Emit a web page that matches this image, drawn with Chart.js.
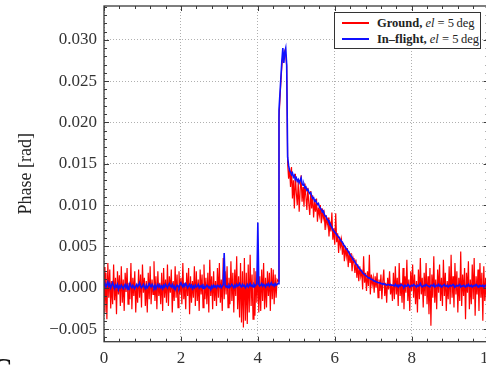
<!DOCTYPE html>
<html>
<head>
<meta charset="utf-8">
<script src="https://cdn.jsdelivr.net/npm/chart.js@4/dist/chart.umd.min.js"></script>
<style>
    html, body { margin: 0; padding: 0; overflow: hidden; background: #fff; }
    #wrap { position: relative; width: 496px; height: 367px; }
    #legend {
        position: absolute; left: 334px; top: 12px; width: 147px; height: 37px;
        border: 1px solid #333; background: #fff; box-sizing: border-box;
        font-family: 'Liberation Serif', 'DejaVu Serif', serif; font-size: 12.5px; color: #222;
        padding-top: 2px;
    }
    #legend .row { display: flex; align-items: center; height: 16px; padding-left: 7px; white-space: nowrap; }
    #legend .swatch { display: inline-block; width: 27px; height: 1.5px; margin-right: 8px; }
    #legend b { font-weight: bold; }
    #legend i { font-style: italic; }
    #corner {
        position: absolute; left: -9px; top: 351px;
        font: bold 30px 'Liberation Serif', serif; color: #111;
    }
</style>
</head>
<body>
<div id="wrap">
    <canvas id="phase-chart" width="496" height="367"></canvas>
    <div id="legend"></div>
    <div id="corner">C</div>
</div>
<script>
// sample spacing along x (both series share it)
const sampleStep = 0.025;

const seriesNames = ['Ground', 'In\u2013flight'];
const elevationDeg = 5;

const xTicks = [0, 2, 4, 6, 8, 10];
const yTicks = [-0.005, 0, 0.005, 0.010, 0.015, 0.020, 0.025, 0.030];

// Ground, el = 5 deg (red)
const groundPhase = [
    0.0025, -0.0030, 0.0018, -0.0038, 0.0030, -0.0012, 0.0022, -0.0025, 0.0008, -0.0020, 0.0028, -0.0015, 0.0012, -0.0032, 0.0020, -0.0008, 0.0015, -0.0022, 0.0026, -0.0018,
    0.0010, -0.0028, 0.0018, -0.0005, 0.0024, -0.0020, 0.0006, -0.0014, 0.0030, -0.0026, 0.0012, -0.0010, 0.0020, -0.0030, 0.0004, -0.0018, 0.0022, -0.0012, 0.0016, -0.0024,
    0.0028, -0.0006, 0.0012, -0.0022, 0.0008, -0.0030, 0.0018, -0.0014, 0.0026, -0.0020, 0.0010, -0.0008, 0.0032, -0.0016, 0.0014, -0.0026, 0.0020, -0.0010, 0.0006, -0.0020,
    0.0018, -0.0028, 0.0024, -0.0012, 0.0010, -0.0018, 0.0028, -0.0022, 0.0014, -0.0006, 0.0022, -0.0030, 0.0008, -0.0016, 0.0026, -0.0012, 0.0016, -0.0024, 0.0020, -0.0008,
    0.0012, -0.0020, 0.0030, -0.0014, 0.0006, -0.0026, 0.0018, -0.0010, 0.0024, -0.0032, 0.0014, -0.0018, 0.0008, -0.0012, 0.0026, -0.0022, 0.0020, -0.0016, 0.0010, -0.0028,
    0.0022, -0.0008, 0.0016, -0.0024, 0.0028, -0.0014, 0.0012, -0.0020, 0.0018, -0.0030, 0.0034, -0.0010, 0.0014, -0.0026, 0.0020, -0.0016, 0.0008, -0.0022, 0.0024, -0.0012,
    0.0030, -0.0018, 0.0010, -0.0028, 0.0036, -0.0014, 0.0020, -0.0008, 0.0026, -0.0024, 0.0012, -0.0020, 0.0032, -0.0016, 0.0018, -0.0030, 0.0022, -0.0010, 0.0038, -0.0026,
    0.0014, -0.0036, 0.0030, -0.0042, 0.0020, -0.0048, 0.0036, -0.0040, 0.0018, -0.0044, 0.0028, -0.0030, 0.0040, -0.0022, 0.0016, -0.0038, 0.0024, -0.0034, 0.0020, -0.0018,
    0.0026, -0.0030, 0.0014, -0.0028, 0.0022, -0.0016, 0.0030, -0.0026, 0.0012, -0.0024, 0.0020, -0.0010, 0.0018, -0.0028, 0.0024, -0.0014, 0.0022, -0.0020, 0.0016, -0.0012, 0.0010,
    0.0008, 0.0205, 0.0228, 0.0250, 0.0268, 0.0282, 0.0276, 0.0286, 0.0282, 0.0268, 0.0150, 0.0132, 0.0145,
    0.0122, 0.0146, 0.0108, 0.0130, 0.0096, 0.0138, 0.0115, 0.0100, 0.0128, 0.0092,
    0.0118, 0.0136, 0.0104, 0.0122, 0.0098, 0.0126, 0.0110, 0.0094, 0.0121, 0.0102, 0.0088, 0.0117, 0.0096,
    0.0112, 0.0085, 0.0104, 0.0092, 0.0108, 0.0080, 0.0097, 0.0088, 0.0100,
    0.0078, 0.0096, 0.0084, 0.0090, 0.0070, 0.0088, 0.0076, 0.0085, 0.0062, 0.0080, 0.0068, 0.0091, 0.0058,
    0.0072, 0.0052, 0.0090, 0.0055, 0.0066, 0.0042, 0.0062, 0.0050,
    0.0058, 0.0040, 0.0054, 0.0032, 0.0050, 0.0038, 0.0048, 0.0025, 0.0044, 0.0030, 0.0042, 0.0020, 0.0036,
    0.0030, 0.0018, 0.0034, 0.0012, 0.0028, 0.0008, 0.0026, 0.0014, 0.0022, -0.0002, 0.0038, 0.0006, 0.0018, -0.0004, 0.0020, 0.0002, 0.0040, -0.0008, 0.0016, 0.0004, 0.0012,
    -0.0006, 0.0014, 0.0000, 0.0018, -0.0012, 0.0010, -0.0004, 0.0016, -0.0014, 0.0008, 0.0022, -0.0010, 0.0006, -0.0018, 0.0012, -0.0002, 0.0020, -0.0008, 0.0004, -0.0016,
    0.0018, -0.0014, 0.0026, -0.0008, 0.0012, -0.0022, 0.0030, -0.0010, 0.0006, -0.0018, 0.0024, -0.0026, 0.0014, -0.0006, 0.0034, -0.0016, 0.0010, -0.0028, 0.0020, -0.0004,
    0.0028, -0.0012, 0.0016, -0.0020, 0.0008, -0.0030, 0.0022, -0.0014, 0.0036, -0.0008, 0.0012, -0.0024, 0.0018, -0.0010, 0.0030, -0.0020, 0.0014, -0.0032, 0.0024, -0.0046,
    0.0016, -0.0012, 0.0038, -0.0018, 0.0010, -0.0026, 0.0022, -0.0006, 0.0028, -0.0016, 0.0012, -0.0022, 0.0034, -0.0010, 0.0018, -0.0028, 0.0008, -0.0014, 0.0026, -0.0020,
    0.0040, -0.0012, 0.0014, -0.0024, 0.0030, -0.0008, 0.0020, -0.0030, 0.0012, -0.0016, 0.0044, -0.0022, 0.0016, -0.0010, 0.0024, -0.0038, 0.0018, -0.0006, 0.0032, -0.0026,
    0.0010, -0.0020, 0.0028, -0.0014, 0.0036, -0.0034, 0.0014, -0.0008, 0.0022, -0.0028, 0.0030, -0.0012, 0.0018, -0.0040, 0.0026, -0.0016, 0.0012, -0.0022, 0.0034, -0.0010
];

// In-flight, el = 5 deg (blue)
const inFlightPhase = [
    0.0003, 0.0005, 0.0001, 0.0004, 0.0007, 0.0002, 0.0005, 0.0000, 0.0003, 0.0006, 0.0002, -0.0001, 0.0003, 0.0001, 0.0004, -0.0002, 0.0002, 0.0000, 0.0003, 0.0001,
    -0.0001, 0.0002, 0.0004, 0.0000, 0.0003, -0.0002, 0.0001, 0.0005, 0.0002, 0.0000, 0.0003, 0.0001, -0.0001, 0.0002, 0.0004, 0.0001, 0.0003, 0.0006, 0.0002, 0.0000,
    0.0002, 0.0004, 0.0001, -0.0001, 0.0003, 0.0000, 0.0002, 0.0005, 0.0003, 0.0001, 0.0004, 0.0002, 0.0000, 0.0003, -0.0001, 0.0002, 0.0004, 0.0001, 0.0003, 0.0000,
    0.0002, -0.0001, 0.0003, 0.0001, 0.0004, 0.0002, 0.0000, 0.0003, 0.0005, 0.0002, 0.0001, 0.0004, 0.0000, 0.0002, -0.0002, 0.0001, 0.0003, 0.0002, 0.0000, 0.0004,
    0.0006, 0.0003, 0.0001, 0.0004, 0.0002, 0.0005, 0.0003, 0.0000, 0.0002, 0.0004, 0.0001, 0.0003, -0.0001, 0.0002, 0.0000, 0.0003, 0.0001, 0.0002, 0.0004, 0.0000,
    0.0002, 0.0001, 0.0003, -0.0001, 0.0002, 0.0000, 0.0001, 0.0003, 0.0002, 0.0000, 0.0001, -0.0002, 0.0002, 0.0000, 0.0003, 0.0001, 0.0002, 0.0000, 0.0003, 0.0002,
    0.0001, 0.0003, 0.0000, 0.0002, 0.0004, 0.0042, 0.0003, 0.0001, 0.0002, 0.0000, 0.0003, 0.0001, 0.0002, 0.0004, 0.0002, 0.0000, 0.0003, 0.0001, 0.0004, 0.0002,
    0.0003, 0.0005, 0.0002, 0.0001, 0.0004, 0.0002, 0.0003, 0.0000, 0.0002, 0.0004, 0.0001, 0.0003, 0.0005, 0.0002, 0.0003, 0.0001, 0.0004, 0.0002, 0.0003, 0.0005,
    0.0079, 0.0004, 0.0002, 0.0003, 0.0005, 0.0002, 0.0004, 0.0003, 0.0001, 0.0004, 0.0003, 0.0005, 0.0002, 0.0004, 0.0006, 0.0003, 0.0004, 0.0002, 0.0005, 0.0003, 0.0004,
    0.0005, 0.0215, 0.0235, 0.0255, 0.0275, 0.0290, 0.0272, 0.0285, 0.0290, 0.0270, 0.0158, 0.0148, 0.0142,
    0.0140, 0.0137, 0.0139, 0.0134, 0.0136, 0.0131, 0.0133, 0.0129, 0.0131, 0.0127,
    0.0130, 0.0133, 0.0126, 0.0124, 0.0125, 0.0121, 0.0122, 0.0118, 0.0119, 0.0116, 0.0114, 0.0115, 0.0111,
    0.0108, 0.0109, 0.0105, 0.0106, 0.0103, 0.0101, 0.0102, 0.0098, 0.0096,
    0.0095, 0.0092, 0.0093, 0.0089, 0.0087, 0.0086, 0.0083, 0.0082, 0.0079, 0.0078, 0.0075, 0.0073, 0.0070,
    0.0069, 0.0067, 0.0066, 0.0064, 0.0063, 0.0061, 0.0060, 0.0058,
    0.0056, 0.0055, 0.0052, 0.0051, 0.0049, 0.0047, 0.0046, 0.0044, 0.0042, 0.0040, 0.0038, 0.0037, 0.0034,
    0.0033, 0.0031, 0.0029, 0.0028, 0.0026, 0.0024, 0.0023, 0.0021, 0.0020, 0.0018, 0.0017, 0.0016, 0.0015, 0.0014, 0.0013, 0.0012, 0.0012, 0.0011, 0.0010, 0.0010, 0.0009,
    0.0008, 0.0008, 0.0007, 0.0007, 0.0006, 0.0006, 0.0006, 0.0005, 0.0005, 0.0004, 0.0005, 0.0004, 0.0004, 0.0003, 0.0004, 0.0004, 0.0003, 0.0004, 0.0003, 0.0003,
    0.0003, 0.0002, 0.0004, 0.0002, 0.0003, 0.0001, 0.0003, 0.0002, 0.0004, 0.0003, 0.0002, 0.0001, 0.0003, 0.0002, 0.0002, 0.0004, 0.0003, 0.0001, 0.0002, 0.0003,
    0.0002, 0.0004, 0.0003, 0.0002, 0.0001, 0.0003, 0.0002, 0.0003, 0.0005, 0.0002, 0.0001, 0.0002, 0.0003, 0.0002, 0.0004, 0.0003, 0.0002, 0.0002, 0.0001, 0.0003,
    0.0003, 0.0002, 0.0004, 0.0001, 0.0002, 0.0003, 0.0002, 0.0004, 0.0002, 0.0003, 0.0001, 0.0002, 0.0003, 0.0004, 0.0002, 0.0002, 0.0003, 0.0001, 0.0002, 0.0003,
    0.0002, 0.0003, 0.0004, 0.0002, 0.0001, 0.0002, 0.0003, 0.0002, 0.0003, 0.0004, 0.0001, 0.0002, 0.0002, 0.0003, 0.0002, 0.0001, 0.0003, 0.0002, 0.0004, 0.0002,
    0.0002, 0.0003, 0.0001, 0.0002, 0.0003, 0.0002, 0.0004, 0.0003, 0.0001, 0.0002, 0.0003, 0.0002, 0.0002, 0.0003, 0.0001, 0.0002, 0.0003, 0.0002, 0.0004, 0.0002
];

const seriesColors = ['#ff0000', '#1010ff'];
const serifFont = "'Liberation Serif', 'DejaVu Serif', serif";

const toPoints = values => values.map((y, i) => ({ x: i * sampleStep, y }));

// box around the plot + inward ticks (major and minor) like the original figure
const frameTicks = {
    id: 'frameTicks',
    afterDatasetsDraw(chart) {
        const { ctx, chartArea: a, scales: { x, y } } = chart;
        ctx.save();
        ctx.strokeStyle = '#3a3a3a';
        ctx.lineWidth = 1;
        ctx.beginPath();
        for (let k = 0; k <= 25; k++) {
            const px = Math.round(x.getPixelForValue(k * 0.4)) + 0.5;
            const len = k % 5 === 0 ? 5 : 3;
            ctx.moveTo(px, a.bottom); ctx.lineTo(px, a.bottom - len);
            ctx.moveTo(px, a.top); ctx.lineTo(px, a.top + len);
        }
        for (let k = -6; k <= 34; k++) {
            const py = Math.round(y.getPixelForValue(k * 0.001)) + 0.5;
            if (py < a.top || py > a.bottom) continue;
            const len = k % 5 === 0 ? 5 : 3;
            ctx.moveTo(a.left, py); ctx.lineTo(a.left + len, py);
            ctx.moveTo(a.right, py); ctx.lineTo(a.right - len, py);
        }
        ctx.stroke();
        ctx.lineWidth = 1.3;
        ctx.strokeRect(a.left, a.top, a.right - a.left, a.bottom - a.top);
        ctx.restore();
    }
};

const chart = new Chart(document.getElementById('phase-chart'), {
    type: 'line',
    data: {
        datasets: [
            {
                label: seriesNames[0],
                data: toPoints(groundPhase),
                borderColor: seriesColors[0],
                borderWidth: 1.2,
                order: 1
            },
            {
                label: seriesNames[1],
                data: toPoints(inFlightPhase),
                borderColor: seriesColors[1],
                borderWidth: 1.6,
                order: 0
            }
        ]
    },
    options: {
        responsive: false,
        animation: false,
        layout: { padding: { top: 6, right: 7.4, bottom: 0, left: 0 } },
        elements: { point: { radius: 0 }, line: { tension: 0 } },
        plugins: { legend: { display: false }, tooltip: { enabled: false } },
        scales: {
            x: {
                type: 'linear',
                min: 0,
                max: 10,
                afterBuildTicks: s => { s.ticks = xTicks.map(v => ({ value: v })); },
                afterFit: s => { s.paddingLeft = 0; s.paddingRight = 0; s.height = 25.3; },
                grid: { color: '#b0b0b0', lineWidth: 1, drawTicks: false },
                border: { display: false, dash: [1, 2] },
                ticks: {
                    padding: 7,
                    color: '#333',
                    font: { family: serifFont, size: 17 },
                    maxRotation: 0,
                    callback: v => String(v)
                }
            },
            y: {
                min: -0.00653,
                max: 0.0341,
                afterBuildTicks: s => { s.ticks = yTicks.map(v => ({ value: v })); },
                afterFit: s => { s.width = 104; s.paddingTop = 0; s.paddingBottom = 0; },
                grid: { color: '#b0b0b0', lineWidth: 1, drawTicks: false },
                border: { display: false, dash: [1, 2] },
                ticks: {
                    padding: 7,
                    color: '#333',
                    font: { family: serifFont, size: 17 },
                    callback: v => v.toFixed(3).replace('-', '\u2212')
                },
                title: {
                    display: true,
                    text: 'Phase [rad]',
                    color: '#222',
                    font: { family: serifFont, size: 18 },
                    padding: { top: 15, bottom: 0 }
                }
            }
        }
    },
    plugins: [frameTicks]
});

// legend drawn as html so the label can mix bold / italic like the figure
const legendEl = document.getElementById('legend');
chart.data.datasets.forEach((ds, i) => {
    const row = document.createElement('div');
    row.className = 'row';
    row.innerHTML = `<span class="swatch" style="background-color:${ds.borderColor}"></span>` +
        `<b>${seriesNames[i]},</b>&nbsp;<i>el</i>&nbsp;=&nbsp;${elevationDeg}\u2009deg`;
    legendEl.appendChild(row);
});
</script>
</body>
</html>
